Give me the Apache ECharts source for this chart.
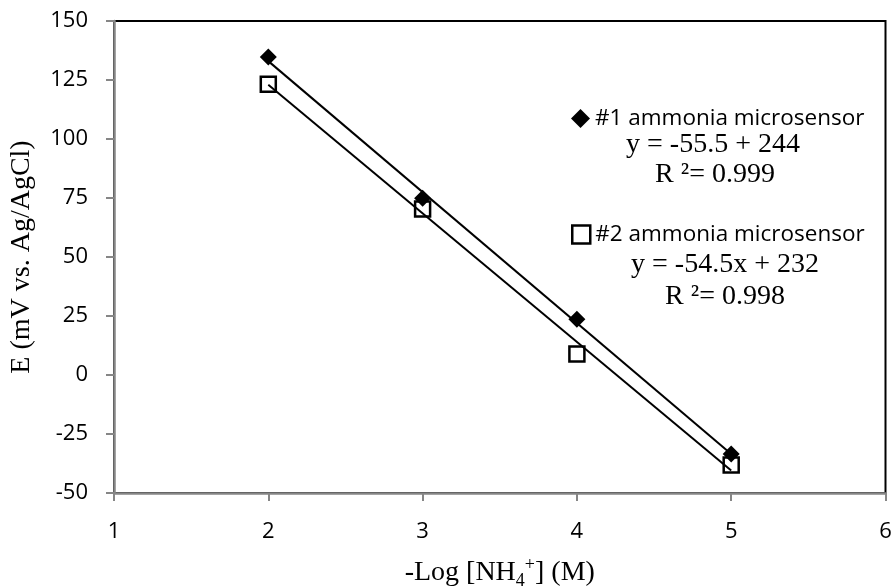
<!DOCTYPE html>
<html>
<head>
<meta charset="utf-8">
<script src="https://cdn.jsdelivr.net/npm/echarts@6/dist/echarts.min.js"></script>
<style>
  html, body { margin: 0; padding: 0; background: #fff; }
  #chart { width: 895px; height: 588px; }
</style>
</head>
<body>
<div id="chart"></div>
<script>
// -Log [NH4+] concentrations
const logConc = [2, 3, 4, 5];
// Potential readings (mV vs. Ag/AgCl) for the two sensors
const sensor1 = [134.7, 74.9, 23.6, -33.5];
const sensor2 = [123.2, 70.3, 8.9, -38.1];
// Series names
const sensorNames = ['#1 ammonia microsensor', '#2 ammonia microsensor'];
// Linear fits as stated in the annotations: [slope, intercept]
const fit1 = [-55.5, 244];
const fit2 = [-54.5, 232];
const fitText1 = ['y = -55.5 + 244', 'R \u00B2= 0.999'];
const fitText2 = ['y = -54.5x + 232', 'R \u00B2= 0.998'];
// Axis ticks
const xTicks = { min: 1, max: 6, step: 1 };
const yTicks = { min: -50, max: 150, step: 25 };

const pairs = (xs, ys) => xs.map((x, i) => [x, ys[i]]);
const fitLine = (f, xs) => {
  const x0 = Math.min(...xs), x1 = Math.max(...xs);
  return [[x0, f[0] * x0 + f[1]], [x1, f[0] * x1 + f[1]]];
};

const serif = '"Liberation Serif", "Times New Roman", serif';
const sans = '"Open Sans", "Noto Sans", sans-serif';
const axisGray = '#868686';

const chart = echarts.init(document.getElementById('chart'), null, { renderer: 'canvas' });

chart.setOption({
  animation: false,
  backgroundColor: '#fff',
  grid: {
    left: 114, right: 9.5, top: 21, bottom: 95,
    outerBoundsMode: 'none',
    containLabel: false,
    show: true, borderColor: '#000', borderWidth: 2, backgroundColor: 'transparent'
  },
  xAxis: {
    type: 'value',
    min: xTicks.min, max: xTicks.max, interval: xTicks.step,
    axisLine: { show: true, onZero: false, lineStyle: { color: axisGray, width: 2.5 } },
    axisTick: { show: true, inside: false, length: 8, lineStyle: { color: axisGray, width: 2 } },
    splitLine: { show: false },
    axisLabel: { color: '#000', fontFamily: sans, fontSize: 22, margin: 28 },
    name: '{t|-Log [NH}{sub|4}{sup|+}{t|] (M)}',
    nameLocation: 'middle',
    nameGap: 63,
    nameTextStyle: {
      rich: {
        t: { fontFamily: serif, fontSize: 28, color: '#000', lineHeight: 34, verticalAlign: 'middle' },
        sub: { fontFamily: serif, fontSize: 18, color: '#000', lineHeight: 34, verticalAlign: 'bottom' },
        sup: { fontFamily: serif, fontSize: 18, color: '#000', lineHeight: 34, verticalAlign: 'top' }
      }
    }
  },
  yAxis: {
    type: 'value',
    min: yTicks.min, max: yTicks.max, interval: yTicks.step,
    axisLine: { show: true, onZero: false, lineStyle: { color: axisGray, width: 2.5 } },
    axisTick: { show: true, inside: false, length: 8, lineStyle: { color: axisGray, width: 2 } },
    splitLine: { show: false },
    axisLabel: { color: '#000', fontFamily: sans, fontSize: 22, margin: 26 },
    name: 'E (mV vs. Ag/AgCl)',
    nameLocation: 'middle',
    nameRotate: 90,
    nameGap: 78,
    nameTextStyle: { fontFamily: serif, fontSize: 28, color: '#000' }
  },
  legend: [
    {
      data: [sensorNames[0]],
      left: 566, top: 102,
      itemWidth: 19, itemHeight: 19, itemGap: 1,
      selectedMode: false,
      textStyle: { fontFamily: sans, fontSize: 22.5, color: '#000' }
    },
    {
      data: [sensorNames[1]],
      left: 566, top: 218,
      itemWidth: 18, itemHeight: 18, itemGap: 3,
      itemStyle: { borderWidth: 2.5 },
      selectedMode: false,
      textStyle: { fontFamily: sans, fontSize: 22.5, color: '#000' }
    }
  ],
  series: [
    {
      name: sensorNames[1],
      type: 'scatter',
      symbol: 'rect',
      symbolSize: 15,
      data: pairs(logConc, sensor2),
      itemStyle: { color: 'rgba(255,255,255,0)', borderColor: '#000', borderWidth: 2.5, opacity: 1 },
      z: 3
    },
    {
      name: 'fit2',
      type: 'line',
      data: fitLine(fit2, logConc),
      showSymbol: false,
      lineStyle: { color: '#000', width: 2 },
      z: 4
    },
    {
      name: 'fit1',
      type: 'line',
      data: fitLine(fit1, logConc),
      showSymbol: false,
      lineStyle: { color: '#000', width: 2 },
      z: 4
    },
    {
      name: sensorNames[0],
      type: 'scatter',
      symbol: 'diamond',
      symbolSize: 17,
      data: pairs(logConc, sensor1),
      itemStyle: { color: '#000', opacity: 1 },
      z: 5
    }
  ],
  graphic: [
    { type: 'text', x: 713, y: 145, style: { text: fitText1[0], font: '28px ' + serif, fill: '#000', align: 'center', verticalAlign: 'middle' } },
    { type: 'text', x: 715, y: 175, style: { text: fitText1[1], font: '28px ' + serif, fill: '#000', align: 'center', verticalAlign: 'middle' } },
    { type: 'text', x: 725, y: 265, style: { text: fitText2[0], font: '28px ' + serif, fill: '#000', align: 'center', verticalAlign: 'middle' } },
    { type: 'text', x: 725, y: 297, style: { text: fitText2[1], font: '28px ' + serif, fill: '#000', align: 'center', verticalAlign: 'middle' } }
  ]
});
</script>
</body>
</html>
